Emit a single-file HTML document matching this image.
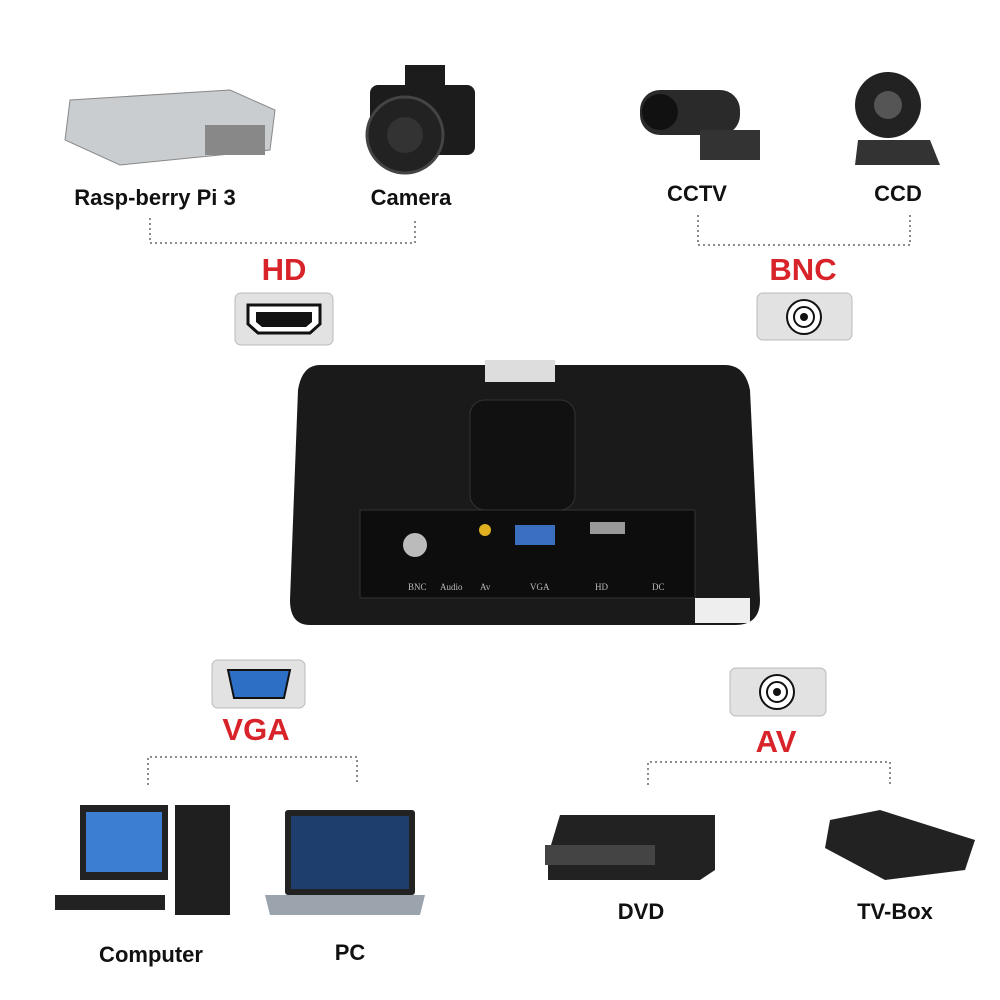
<!DOCTYPE html>
<html><head><meta charset="utf-8"><style>
html,body{margin:0;padding:0;background:#fff;}
#c{position:relative;width:1000px;height:1000px;overflow:hidden;font-family:"Liberation Sans",sans-serif;}
.l{position:absolute;font-weight:bold;font-size:22px;color:#111;transform:translateX(-50%);white-space:nowrap;}
.r{position:absolute;font-weight:bold;font-size:31px;color:#d8232a;transform:translateX(-50%);}
</style></head><body><div id="c">
<svg width="1000" height="1000" style="position:absolute;left:0;top:0">
<g fill="none" stroke="#666" stroke-width="1.5" stroke-dasharray="2,3">
<path d="M150 218V243H415V218"/>
<path d="M698 215V245H910V215"/>
<path d="M148 785V757H357V785"/>
<path d="M648 785V762H890V785"/>
</g>
<!-- connector boxes -->
<rect x="235" y="293" width="98" height="52" rx="6" fill="#e2e2e2" stroke="#bbb"/>
<path d="M248 305H320V324L310 333H258L248 324Z" fill="#fff" stroke="#111" stroke-width="3"/>
<path d="M256 312H312V322L306 327H262L256 322Z" fill="#111"/>
<rect x="757" y="293" width="95" height="47" rx="6" fill="#e2e2e2" stroke="#bbb"/>
<circle cx="804" cy="317" r="17" fill="#fff" stroke="#111" stroke-width="2"/><circle cx="804" cy="317" r="10" fill="none" stroke="#111" stroke-width="2"/><circle cx="804" cy="317" r="4" fill="#111"/>
<rect x="212" y="660" width="93" height="48" rx="6" fill="#e2e2e2" stroke="#bbb"/>
<path d="M228 670H290L284 698H234Z" fill="#2d6fc4" stroke="#111" stroke-width="2"/>
<rect x="730" y="668" width="96" height="48" rx="6" fill="#e2e2e2" stroke="#bbb"/>
<circle cx="777" cy="692" r="17" fill="#fff" stroke="#111" stroke-width="2"/><circle cx="777" cy="692" r="10" fill="none" stroke="#111" stroke-width="2"/><circle cx="777" cy="692" r="4" fill="#111"/>
<!-- monitor -->
<path d="M320 365H725Q745 365 750 390L760 600Q760 625 735 625H310Q290 625 290 600L298 390Q302 365 320 365Z" fill="#1a1a1a"/>
<rect x="360" y="510" width="335" height="88" fill="#0d0d0d" stroke="#333"/>
<rect x="470" y="400" width="105" height="110" rx="15" fill="#111" stroke="#333"/>
<rect x="485" y="360" width="70" height="22" fill="#ddd"/>
<circle cx="415" cy="545" r="12" fill="#bbb"/><circle cx="485" cy="530" r="6" fill="#e0b020"/>
<rect x="515" y="525" width="40" height="20" fill="#3b6fc0"/>
<rect x="590" y="522" width="35" height="12" fill="#999"/>
<rect x="695" y="598" width="55" height="25" fill="#eee"/>
<g fill="#bbb" font-family="Liberation Serif" font-size="9"><text x="408" y="590">BNC</text><text x="440" y="590">Audio</text><text x="480" y="590">Av</text><text x="530" y="590">VGA</text><text x="595" y="590">HD</text><text x="652" y="590">DC</text></g>
<!-- devices -->
<path d="M70 100L230 90L275 110L270 150L120 165L65 140Z" fill="#c9cdcf" stroke="#888"/>
<rect x="205" y="125" width="60" height="30" fill="#888"/>
<rect x="370" y="85" width="105" height="70" rx="8" fill="#1c1c1c"/><rect x="405" y="65" width="40" height="25" fill="#1c1c1c"/>
<circle cx="405" cy="135" r="38" fill="#222" stroke="#444" stroke-width="3"/><circle cx="405" cy="135" r="18" fill="#333"/>
<rect x="640" y="90" width="100" height="45" rx="20" fill="#2a2a2a"/><rect x="700" y="130" width="60" height="30" fill="#333"/><circle cx="660" cy="112" r="18" fill="#111"/>
<circle cx="888" cy="105" r="33" fill="#222"/><circle cx="888" cy="105" r="14" fill="#555"/><path d="M858 140H930L940 165H855Z" fill="#333"/>
<rect x="80" y="805" width="88" height="75" fill="#222"/><rect x="86" y="812" width="76" height="60" fill="#3c7ed1"/>
<rect x="175" y="805" width="55" height="110" fill="#1f1f1f"/><rect x="55" y="895" width="110" height="15" fill="#222"/>
<rect x="285" y="810" width="130" height="85" rx="3" fill="#222"/><rect x="291" y="816" width="118" height="73" fill="#1e3e6e"/>
<path d="M265 895H425L420 915H270Z" fill="#9ba3ad"/>
<path d="M560 815H715V870L700 880H548V855Z" fill="#222"/><rect x="545" y="845" width="110" height="20" fill="#444"/>
<path d="M830 820L880 810L975 840L965 870L885 880L825 848Z" fill="#222"/>
</svg>
<div class="l" style="left:155px;top:185px">Rasp-berry Pi 3</div>
<div class="l" style="left:411px;top:185px">Camera</div>
<div class="l" style="left:697px;top:181px">CCTV</div>
<div class="l" style="left:898px;top:181px">CCD</div>
<div class="l" style="left:151px;top:942px">Computer</div>
<div class="l" style="left:350px;top:940px">PC</div>
<div class="l" style="left:641px;top:899px">DVD</div>
<div class="l" style="left:895px;top:899px">TV-Box</div>
<div class="r" style="left:284px;top:252px">HD</div>
<div class="r" style="left:803px;top:252px">BNC</div>
<div class="r" style="left:256px;top:712px">VGA</div>
<div class="r" style="left:776px;top:724px">AV</div>
</div></body></html>
